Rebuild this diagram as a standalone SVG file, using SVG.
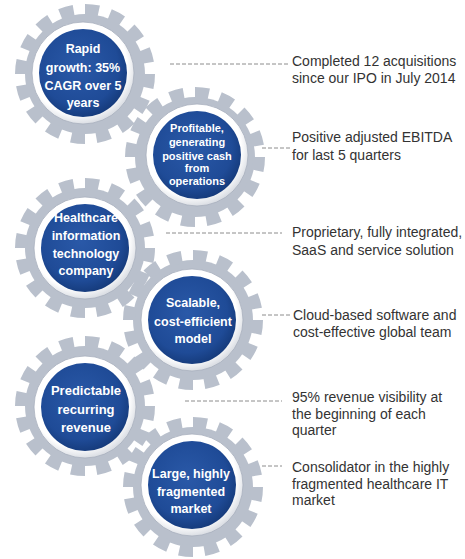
<svg xmlns="http://www.w3.org/2000/svg" width="465" height="559" viewBox="0 0 465 559">
<defs>
<radialGradient id="blue" cx="0.45" cy="0.42" r="0.6">
<stop offset="0" stop-color="#2a59a8"/>
<stop offset="0.75" stop-color="#1f4b97"/>
<stop offset="1" stop-color="#153a7a"/>
</radialGradient>
<radialGradient id="ring" cx="0.45" cy="0.42" r="0.6">
<stop offset="0.8" stop-color="#ffffff"/>
<stop offset="1" stop-color="#d5d9e0"/>
</radialGradient>
<g id="gear">
<circle r="60" fill="#b9c0cc"/>
<circle r="64" fill="none" stroke="#b9c0cc" stroke-width="12" pathLength="160" stroke-dasharray="5.5 4.5"/>
</g>
<g id="hub">
<circle r="51" fill="url(#ring)" stroke="#a7afbc" stroke-width="0.8"/>
<circle r="44" fill="url(#blue)"/>
</g>
</defs>
<style>
.lbl{font-family:"Liberation Sans",Arial,sans-serif;font-weight:bold;fill:#ffffff;text-anchor:middle}
.txt{font-family:"Liberation Sans",Arial,sans-serif;font-size:14px;fill:#333333}
.dash{stroke:#8c8c8c;stroke-width:1;stroke-dasharray:4 2;fill:none}
</style>
<rect width="465" height="559" fill="#ffffff"/>
<g id="connectors">
<line class="dash" x1="170" y1="64" x2="288" y2="64"/>
<line class="dash" x1="262" y1="148" x2="290" y2="148"/>
<line class="dash" x1="166" y1="233" x2="282" y2="233"/>
<line class="dash" x1="262" y1="315" x2="292" y2="315"/>
<line class="dash" x1="185" y1="401" x2="282" y2="401"/>
<line class="dash" x1="262" y1="466" x2="282" y2="466"/>
</g>
<g id="gears-back">
<use href="#gear" x="85" y="74"/>
<use href="#gear" x="195" y="157"/>
<use href="#gear" x="85" y="248"/>
<use href="#gear" x="193" y="320"/>
<use href="#gear" x="85" y="406"/>
<use href="#gear" x="193" y="487"/>
</g>
<g id="node1">
<use href="#hub" x="83" y="73"/>
<text class="lbl" font-size="12.5"><tspan x="83" y="53">Rapid</tspan><tspan x="83" y="72">growth: 35%</tspan><tspan x="83" y="90">CAGR over 5</tspan><tspan x="83" y="107">years</tspan></text>
</g>
<g id="node2">
<use href="#hub" x="197" y="155"/>
<text class="lbl" font-size="11"><tspan x="197" y="132">Profitable,</tspan><tspan x="197" y="146">generating</tspan><tspan x="197" y="160">positive cash</tspan><tspan x="197" y="172">from</tspan><tspan x="197" y="185">operations</tspan></text>
</g>
<g id="node3">
<use href="#hub" x="85" y="248"/>
<text class="lbl" font-size="12.5"><tspan x="86" y="222">Healthcare</tspan><tspan x="86" y="240">information</tspan><tspan x="86" y="258">technology</tspan><tspan x="86" y="275">company</tspan></text>
</g>
<g id="node4">
<use href="#hub" x="192" y="320"/>
<text class="lbl" font-size="12.5"><tspan x="193" y="307">Scalable,</tspan><tspan x="193" y="326">cost-efficient</tspan><tspan x="193" y="343">model</tspan></text>
</g>
<g id="node5">
<use href="#hub" x="85" y="407"/>
<text class="lbl" font-size="13"><tspan x="86" y="395">Predictable</tspan><tspan x="86" y="414">recurring</tspan><tspan x="86" y="432">revenue</tspan></text>
</g>
<g id="node6">
<use href="#hub" x="192" y="485"/>
<text class="lbl" font-size="12.5"><tspan x="191" y="478">Large, highly</tspan><tspan x="191" y="496">fragmented</tspan><tspan x="191" y="513">market</tspan></text>
</g>
<g id="desc1"><text class="txt"><tspan x="292" y="66">Completed 12 acquisitions</tspan><tspan x="292" y="83">since our IPO in July 2014</tspan></text></g>
<g id="desc2"><text class="txt"><tspan x="292" y="142">Positive adjusted EBITDA</tspan><tspan x="292" y="160">for last 5 quarters</tspan></text></g>
<g id="desc3"><text class="txt"><tspan x="292" y="237">Proprietary, fully integrated,</tspan><tspan x="292" y="255">SaaS and service solution</tspan></text></g>
<g id="desc4"><text class="txt"><tspan x="293" y="320">Cloud-based software and</tspan><tspan x="293" y="337">cost-effective global team</tspan></text></g>
<g id="desc5"><text class="txt"><tspan x="292" y="402">95% revenue visibility at</tspan><tspan x="292" y="419">the beginning of each</tspan><tspan x="292" y="435">quarter</tspan></text></g>
<g id="desc6"><text class="txt"><tspan x="292" y="472">Consolidator in the highly</tspan><tspan x="292" y="489">fragmented healthcare IT</tspan><tspan x="292" y="505">market</tspan></text></g>
</svg>
